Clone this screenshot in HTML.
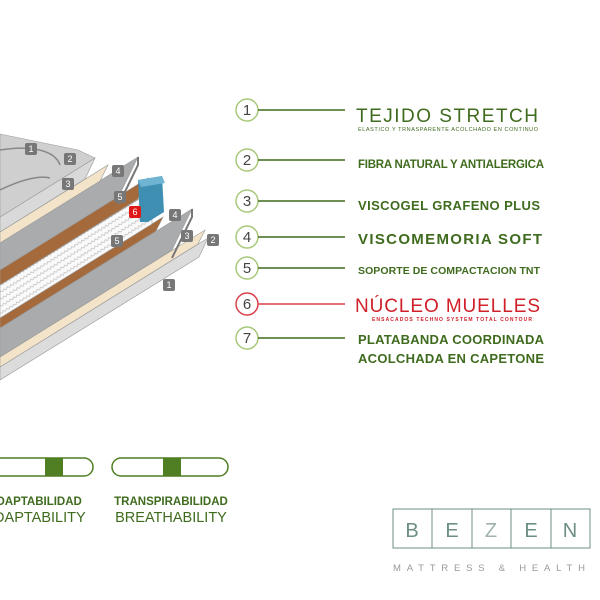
<!DOCTYPE html>
<html><head><meta charset="utf-8"><style>
body{margin:0;background:#fff;}
svg{display:block;font-family:"Liberation Sans",sans-serif;}
</style></head><body>
<svg width="600" height="600" viewBox="0 0 600 600" xmlns="http://www.w3.org/2000/svg">
<defs>
<pattern id="spr" width="8" height="6" patternUnits="userSpaceOnUse" patternTransform="rotate(-32)">
<rect width="8" height="6" fill="#fafafa"/>
<path d="M0 3 L2 1 L4 3 L6 1 L8 3" fill="none" stroke="#c8c8c8" stroke-width="0.8"/>
</pattern>
</defs>
<g stroke="#9a9a9a" stroke-width="0.6">
<polygon points="0,367 208,238 199,257 0,380" fill="#dcdcdc"/>
<polygon points="0,357 205,230 198,244 0,367" fill="#f3e3c8"/>
<polygon points="0,328 192,209 172,250 0,357" fill="#a9abad"/>
<polygon points="0,318 163,217 156,231 0,328" fill="#a56a3c"/>
<polygon points="0,285 152,191 152,224 0,318" fill="url(#spr)"/>
<polygon points="0,270 148,178 138,199 0,285" fill="#a56a3c"/>
<polygon points="0,243 138,157 119,196 0,270" fill="#a9abad"/>
<polygon points="0,232 108,165 100,181 0,243" fill="#f3e3c8"/>
<polygon points="0,217 95,158 85,179 0,232" fill="#d9d9d9"/>
<polygon points="0,134 78,150 95,158 0,217" fill="#cfcfcf"/>
</g>
<g stroke="#777" stroke-width="2" fill="none">
<path d="M192 209 L192 217 L172 258"/><path d="M138 157 L138 165 L119 204"/>
</g>
<path d="M0 150 C30 145 55 150 60 165 M0 190 C20 180 40 175 50 178" stroke="#888" fill="none" stroke-width="1.5"/>
<polygon points="138,180 162,176 164,212 148,222 140,222" fill="#3f8fb3"/>
<polygon points="138,180 162,176 165,183 141,187" fill="#6fb5d3"/>
<g font-size="9" fill="#fff" text-anchor="middle">
<rect x="25" y="143" width="12" height="12" rx="2" fill="#777"/><text x="31" y="152">1</text>
<rect x="64" y="153" width="12" height="12" rx="2" fill="#777"/><text x="70" y="162">2</text>
<rect x="62" y="178" width="12" height="12" rx="2" fill="#777"/><text x="68" y="187">3</text>
<rect x="112" y="165" width="12" height="12" rx="2" fill="#777"/><text x="118" y="174">4</text>
<rect x="114" y="191" width="12" height="12" rx="2" fill="#777"/><text x="120" y="200">5</text>
<rect x="129" y="206" width="12" height="12" rx="2" fill="#e01818"/><text x="135" y="215">6</text>
<rect x="169" y="209" width="12" height="12" rx="2" fill="#777"/><text x="175" y="218">4</text>
<rect x="181" y="230" width="12" height="12" rx="2" fill="#777"/><text x="187" y="239">3</text>
<rect x="207" y="234" width="12" height="12" rx="2" fill="#777"/><text x="213" y="243">2</text>
<rect x="111" y="235" width="12" height="12" rx="2" fill="#777"/><text x="117" y="244">5</text>
<rect x="163" y="279" width="12" height="12" rx="2" fill="#777"/><text x="169" y="288">1</text>
</g>
<g fill="none" stroke-width="1.5">
<g stroke="#a9c97a"><circle cx="247" cy="110" r="11"/><circle cx="247" cy="160" r="11"/><circle cx="247" cy="201" r="11"/><circle cx="247" cy="237" r="11"/><circle cx="247" cy="268" r="11"/><circle cx="247" cy="338" r="11"/></g>
<circle cx="247" cy="304" r="11" stroke="#d9414a"/>
<g stroke="#3f6b1e"><line x1="258" y1="110" x2="345" y2="110"/><line x1="258" y1="160" x2="345" y2="160"/><line x1="258" y1="201" x2="345" y2="201"/><line x1="258" y1="237" x2="345" y2="237"/><line x1="258" y1="268" x2="345" y2="268"/><line x1="258" y1="338" x2="345" y2="338"/></g>
<line x1="258" y1="304" x2="345" y2="304" stroke="#d9414a"/>
</g>
<g fill="#444" font-size="15" text-anchor="middle"><text x="247" y="115">1</text><text x="247" y="165">2</text><text x="247" y="206">3</text><text x="247" y="242">4</text><text x="247" y="273">5</text><text x="247" y="309">6</text><text x="247" y="343">7</text></g>
<g fill="#3f6b1e" font-weight="bold">
<text x="356" y="122" font-size="19" font-weight="normal" textLength="182">TEJIDO STRETCH</text>
<text x="358" y="131" font-size="5.5" font-weight="normal" textLength="180">ELASTICO Y TRNASPARENTE ACOLCHADO EN CONTINUO</text>
<text x="358" y="168" font-size="11.5" textLength="186">FIBRA NATURAL Y ANTIALERGICA</text>
<text x="358" y="210" font-size="13" textLength="182">VISCOGEL GRAFENO PLUS</text>
<text x="358" y="244" font-size="15" textLength="184">VISCOMEMORIA SOFT</text>
<text x="358" y="274" font-size="10.5" textLength="182">SOPORTE DE COMPACTACION TNT</text>
<text x="358" y="344" font-size="13" textLength="186">PLATABANDA  COORDINADA</text>
<text x="358" y="363" font-size="13" textLength="186">ACOLCHADA EN CAPETONE</text>
</g>
<text x="355" y="312" font-size="19" fill="#d0202a" textLength="185">NÚCLEO MUELLES</text>
<text x="372" y="321" font-size="5" font-weight="bold" fill="#d0202a" textLength="160">ENSACADOS TECHNO SYSTEM TOTAL CONTOUR</text>
<rect x="-40" y="458" width="133" height="18" rx="9" fill="none" stroke="#4f7f22" stroke-width="1.5"/>
<rect x="45" y="458" width="18" height="18" fill="#4f7f22"/>
<rect x="112" y="458" width="116" height="18" rx="9" fill="none" stroke="#4f7f22" stroke-width="1.5"/>
<rect x="163" y="458" width="18" height="18" fill="#4f7f22"/>
<g fill="#3f6b1e" text-anchor="middle">
<text x="35" y="505" font-size="11.5" font-weight="bold">ADAPTABILIDAD</text>
<text x="35" y="522" font-size="14.5">ADAPTABILITY</text>
<text x="171" y="505" font-size="11.5" font-weight="bold">TRANSPIRABILIDAD</text>
<text x="171" y="522" font-size="14.5">BREATHABILITY</text>
</g>
<g fill="none" stroke="#6d8f82" stroke-width="1">
<rect x="393" y="509" width="197" height="39"/>
<line x1="432" y1="509" x2="432" y2="548"/><line x1="472" y1="509" x2="472" y2="548"/><line x1="511" y1="509" x2="511" y2="548"/><line x1="551" y1="509" x2="551" y2="548"/>
</g>
<g fill="#6d8f82" font-size="20" text-anchor="middle">
<text x="412" y="537">B</text><text x="452" y="537">E</text><text x="491" y="537" fill="#9fb3ab">Z</text><text x="531" y="537">E</text><text x="570" y="537">N</text>
</g>
<text x="393" y="571" font-size="9.5" fill="#999" textLength="196" letter-spacing="4">MATTRESS &amp; HEALTH</text>
</svg>
</body></html>
